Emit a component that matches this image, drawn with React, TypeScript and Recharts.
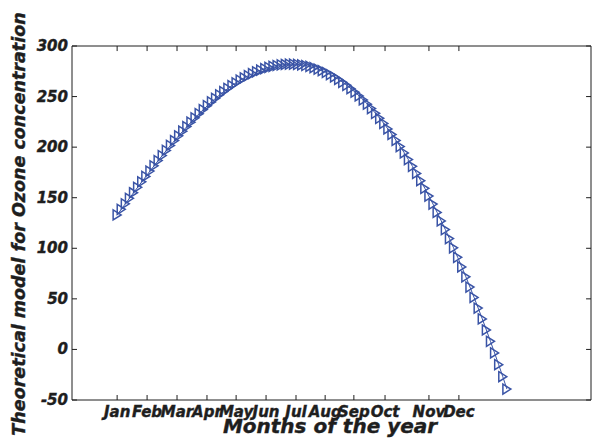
import React from "react"
import {
  LineChart,
  Line,
  XAxis,
  YAxis,
  ReferenceLine,
} from "recharts"

// month tick labels and where they sit on the sample axis
const monthLabels = ["Jan", "Feb", "Mar", "Apr", "May", "Jun", "Jul", "Aug", "Sep", "Oct", "Nov", "Dec"]
const monthTicks = [0, 7.3, 14.6, 21.9, 29.0, 36.3, 43.6, 50.7, 57.7, 65.3, 76.0, 83.3]

const yTicks = [-50, 0, 50, 100, 150, 200, 250, 300]

// theoretical ozone model
const ozone = [
  133.0, 138.5, 144.0, 149.4, 154.9, 160.3, 165.7, 171.0, 176.3, 181.5,
  186.7, 191.7, 196.8, 201.7, 206.5, 211.2, 215.8, 220.3, 224.7, 229.0,
  233.1, 237.1, 241.0, 244.7, 248.3, 251.7, 254.9, 258.0, 260.9, 263.6,
  266.2, 268.5, 270.7, 272.7, 274.5, 276.1, 277.6, 278.8, 279.8, 280.7,
  281.3, 281.7, 282.0, 282.0, 281.8, 281.3, 280.7, 279.8, 278.6, 277.2,
  275.6, 273.8, 271.7, 269.4, 266.9, 264.1, 261.1, 257.8, 254.3, 250.6,
  246.7, 242.5, 238.1, 233.4, 228.5, 223.4, 218.0, 212.5, 206.6, 200.6,
  194.3, 187.7, 181.0, 174.0, 166.8, 159.3, 151.6, 143.7, 135.5, 127.1,
  118.5, 109.6, 100.5, 91.1, 81.6, 71.8, 61.7, 51.4, 40.9, 30.2,
  19.2, 8.0, -3.5, -15.1, -27.0, -39.2,
]

const X_MIN = -11
const X_MAX = 115.5
const Y_MIN = -50
const Y_MAX = 300

const data = ozone.map((v, i) => ({ t: i, v }))

const FONT = "'DejaVu Sans', sans-serif"
const INK = "#1e1e1e"
const BLUE = "#3a54a6"

const textStyle = {
  fontFamily: FONT,
  fontWeight: "bold" as const,
  fontStyle: "italic" as const,
  fill: INK,
  stroke: INK,
  strokeWidth: 0.4,
}

const XTick = (props: any) => {
  const { x, y, payload } = props
  const idx = monthTicks.indexOf(payload.value)
  return (
    <g>
      <line x1={x} x2={x} y1={y} y2={y - 5} stroke={INK} strokeWidth={1} />
      <text x={x} y={y + 17} textAnchor="middle" fontSize={15} {...textStyle}>
        {idx >= 0 ? monthLabels[idx] : ""}
      </text>
    </g>
  )
}

const YTick = (props: any) => {
  const { x, y, payload } = props
  return (
    <g>
      <line x1={x} x2={x + 5} y1={y} y2={y} stroke={INK} strokeWidth={1} />
      <text x={x - 4} y={y + 5} textAnchor="end" fontSize={15} {...textStyle}>
        {payload.value}
      </text>
    </g>
  )
}

// MATLAB style '>' marker, hollow
const TriangleDot = (props: any) => {
  const { cx, cy } = props
  if (cx == null || cy == null) return null
  return (
    <path
      d={`M${cx - 4},${cy - 5} L${cx + 4},${cy} L${cx - 4},${cy + 5} Z`}
      fill="none"
      stroke={BLUE}
      strokeWidth={1.5}
    />
  )
}

export default function App() {
  return (
    <div style={{ position: "absolute", left: 0, top: 0, background: "#fff" }}>
      <LineChart
        width={592}
        height={439}
        data={data}
        margin={{ top: 46, right: 1, bottom: 0, left: 0 }}
      >
        <XAxis
          dataKey="t"
          type="number"
          domain={[X_MIN, X_MAX]}
          ticks={monthTicks}
          interval={0}
          height={39}
          tickSize={0}
          tickMargin={0}
          tickLine={false}
          axisLine={{ stroke: INK, strokeWidth: 1 }}
          tick={<XTick />}
          allowDataOverflow
          label={() => (
            <text x={330} y={433} textAnchor="middle" fontSize={20} {...textStyle}>
              Months of the year
            </text>
          )}
        />
        <YAxis
          type="number"
          domain={[Y_MIN, Y_MAX]}
          ticks={yTicks}
          interval={0}
          width={72}
          tickSize={0}
          tickMargin={0}
          tickLine={false}
          axisLine={{ stroke: INK, strokeWidth: 1 }}
          tick={<YTick />}
          allowDataOverflow
          label={() => (
            <text
              transform="translate(25,224) rotate(-90)"
              textAnchor="middle"
              fontSize={17.5}
              {...textStyle}
            >
              Theoretical model for Ozone concentration
            </text>
          )}
        />
        {/* box: top and right edges with inward ticks */}
        <ReferenceLine y={Y_MAX} stroke={INK} strokeWidth={1} />
        <ReferenceLine x={X_MAX} stroke={INK} strokeWidth={1} />
        {monthTicks.map((t) => (
          <ReferenceLine
            key={"top" + t}
            segment={[{ x: t, y: Y_MAX }, { x: t, y: Y_MAX - 5 }]}
            stroke={INK}
            strokeWidth={1}
          />
        ))}
        {yTicks.map((v) => (
          <ReferenceLine
            key={"right" + v}
            segment={[{ x: X_MAX, y: v }, { x: X_MAX - 1.2, y: v }]}
            stroke={INK}
            strokeWidth={1}
          />
        ))}
        <Line
          type="linear"
          dataKey="v"
          stroke={BLUE}
          strokeWidth={1}
          dot={<TriangleDot />}
          activeDot={false}
          isAnimationActive={false}
        />
      </LineChart>
    </div>
  )
}
